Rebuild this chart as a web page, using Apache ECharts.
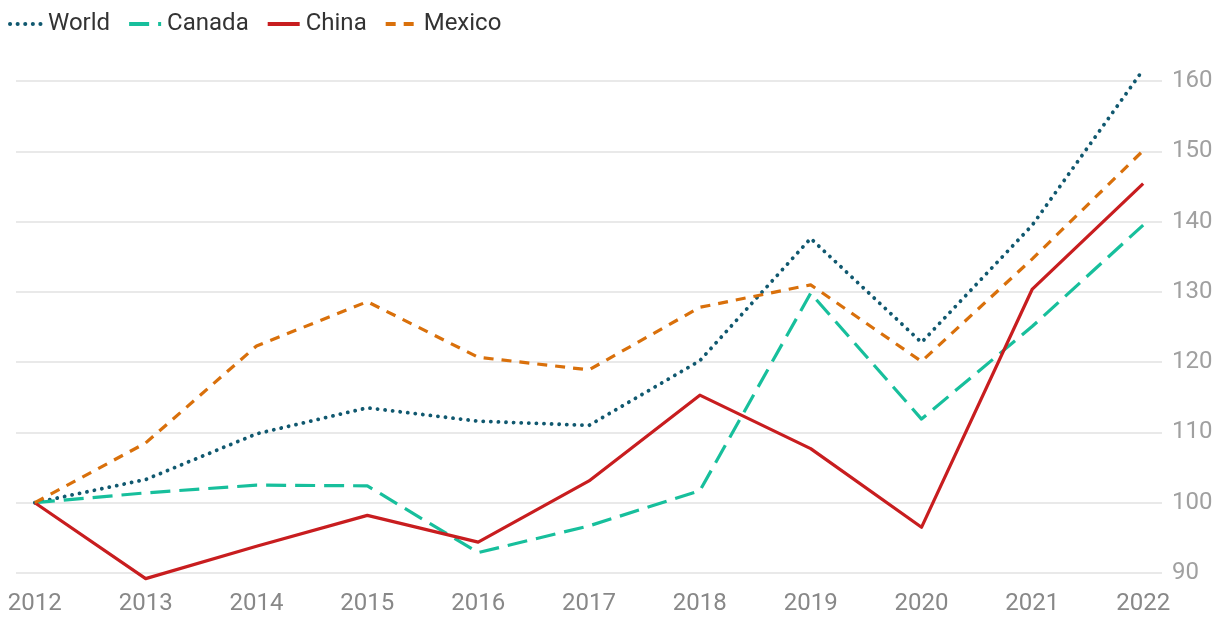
<!DOCTYPE html>
<html>
<head>
<meta charset="utf-8">
<script src="https://cdn.jsdelivr.net/npm/echarts@6/dist/echarts.min.js"></script>
<style>
  html, body { margin: 0; padding: 0; background: #fff; }
  #chart { width: 1220px; height: 619px; }
</style>
</head>
<body>
<div id="chart"></div>
<script>
// index values, 2012 = 100
const years = [2012, 2013, 2014, 2015, 2016, 2017, 2018, 2019, 2020, 2021, 2022];
const world  = [100, 103.3, 109.8, 113.5, 111.6, 111.0, 120.2, 137.6, 122.8, 139.5, 161.6];
const canada = [100, 101.4, 102.5, 102.4, 92.9, 96.7, 101.7, 129.8, 111.9, 125.1, 139.5];
const china  = [100, 89.2, 93.8, 98.2, 94.4, 103.1, 115.3, 107.7, 96.5, 130.4, 145.4];
const mexico = [100, 108.5, 122.3, 128.6, 120.7, 118.9, 127.8, 131.0, 120.1, 134.7, 150.1];
const yTicks = [90, 100, 110, 120, 130, 140, 150, 160];

const font = 'Roboto, "Noto Sans", sans-serif';

function pairs(values) {
    return years.map((y, i) => [y, values[i]]);
}

function lineSeries(name, data, color, dash, cap, width) {
    return {
        name: name,
        type: 'line',
        data: pairs(data),
        symbol: 'none',
        clip: false,
        lineStyle: { color: color, width: width || 3.2, type: dash, cap: cap || 'butt', join: 'round' },
        itemStyle: { color: color },
        emphasis: { disabled: true }
    };
}

const chart = echarts.init(document.getElementById('chart'));
chart.setOption({
    backgroundColor: '#ffffff',
    animation: false,
    legend: {
        left: 3,
        top: 7,
        itemWidth: 32,
        itemHeight: 14,
        itemGap: 17,
        itemStyle: { opacity: 0 },
        lineStyle: { width: 4 },
        textStyle: { fontFamily: font, fontSize: 24, color: '#333333', padding: [0, 0, 0, 1] },
        data: ['World', 'Canada', 'China', 'Mexico']
    },
    grid: { left: 16, right: 58, top: 81, bottom: 46 },
    xAxis: {
        type: 'value',
        min: 2011.83,
        max: 2022.17,
        splitLine: { show: false },
        axisLine: { show: false },
        axisTick: { show: false },
        axisLabel: {
            customValues: years,
            formatter: v => String(v),
            fontFamily: font, fontSize: 24, color: '#888888', margin: 19
        }
    },
    yAxis: {
        type: 'value',
        position: 'right',
        min: yTicks[0],
        max: yTicks[yTicks.length - 1],
        interval: 10,
        axisLine: { show: false },
        axisTick: { show: false },
        axisLabel: { fontFamily: font, fontSize: 24, color: '#a0a0a0', margin: 10 },
        splitLine: { lineStyle: { color: '#e2e2e2', width: 1.5 } }
    },
    series: [
        lineSeries('World', world, '#10586f', [0.1, 7.5], 'round', 3.8),
        lineSeries('Canada', canada, '#17bf9c', [20, 9]),
        lineSeries('China', china, '#c81d1f', 'solid'),
        lineSeries('Mexico', mexico, '#d9700b', [10, 8])
    ]
});
</script>
</body>
</html>
